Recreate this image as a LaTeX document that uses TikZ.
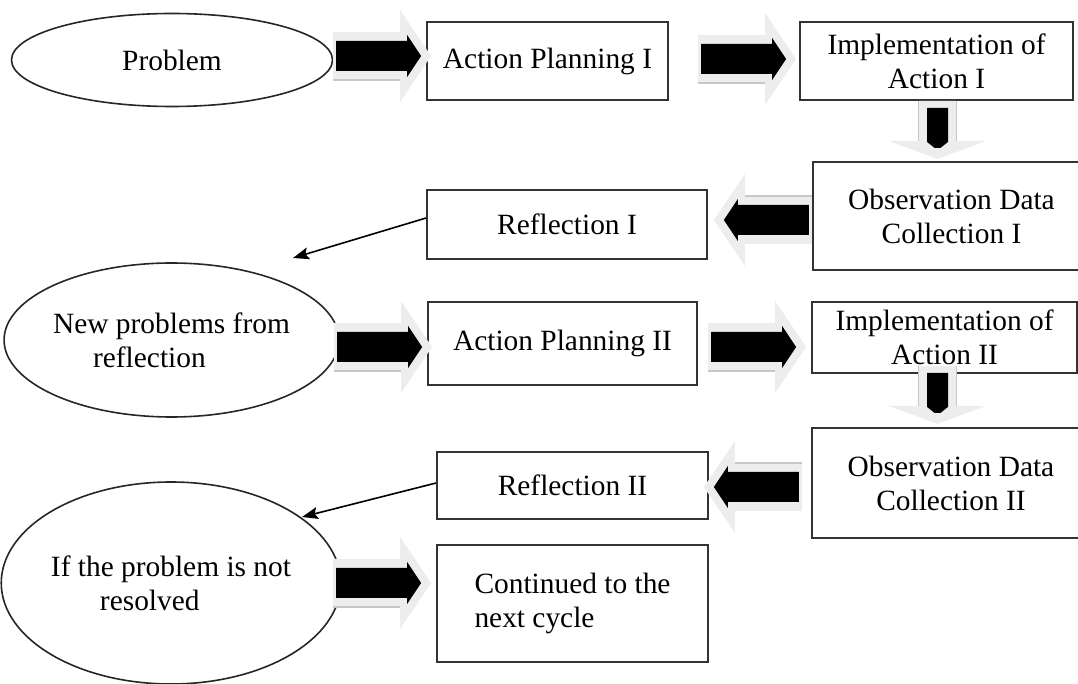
\documentclass[tikz,border=0pt]{standalone}
\usepackage{fontspec}
\setmainfont{Liberation Serif}
\usepackage{tikz}
\usetikzlibrary{arrows.meta,positioning,calc,shapes.geometric}
\tikzset{
  >=Stealth,
  every picture/.append style={line width=0.8pt},
  every node/.append style={font=\fontsize{14.7}{17}\selectfont},
}
\tikzset{
  box/.style={draw=black!80, line width=0.9pt, align=center, inner sep=0pt},
  oval/.style={draw=black!85, ellipse, line width=0.8pt, align=left, inner sep=0pt},
  thinarr/.style={-{Stealth[length=8pt, width=6pt, inset=1.5pt]}, line width=0.8pt},
  shadowfill/.style={fill=black!7},
  shadowline/.style={draw=black!22, line width=0.9pt},
  % horizontal block arrow, tip of the black part at the origin
  pics/flowarrow/.style={code={
    \fill[shadowfill] (-88,-24) -- (-21,-24) -- (-21,-46) -- (10,0) -- (-21,46) -- (-21,24) -- (-88,24) -- cycle;
    \draw[shadowline] (-88,24) -- (-21,24);
    \fill[black] (-85,-15) -- (-14,-15) -- (-14,-21) -- (0,0) -- (-14,21) -- (-14,15) -- (-85,15) -- cycle;
  }},
  % short downward block arrow
  pics/droparrow/.style={code={
    \fill[shadowfill] (-47,-19) -- (-7,-19) -- (-7,-49) -- (11,0) -- (-7,49) -- (-7,19) -- (-47,19) -- cycle;
    \draw[shadowline] (-47,-19) -- (-7,-19);
    \draw[shadowline] (-47,19) -- (-7,19);
    \fill[black] (-40,-10.5) -- (-6,-10.5) -- (0,-3) -- (0,3) -- (-6,10.5) -- (-40,10.5) -- cycle;
  }},
}

\begin{document}
\begin{tikzpicture}[x=0.5pt, y=-0.5pt]
\useasboundingbox (0,0) rectangle (1078,684);

% First cycle
\node[oval, minimum width=160.5pt, minimum height=46.5pt] (prob) at (172,60) {Problem};
\node[box, minimum width=120.5pt, minimum height=39pt] (ap1) at (547.5,61) {Action Planning I};
\node[box, minimum width=136.5pt, minimum height=39pt] (imp1) at (936.5,61) {Implementation of\\Action I};
\node[box, minimum width=138.5pt, minimum height=54pt] (obs1) at (951.5,216) {Observation Data\\Collection I};
\node[box, minimum width=140pt, minimum height=34.5pt] (ref1) at (567,224.5) {Reflection I};

% Second cycle
\node[oval, minimum width=153.5pt, minimum height=77pt] (newp) at (171.5,340) {New problems from\\\hspace*{20pt}reflection};
\node[box, minimum width=134.5pt, minimum height=41.5pt] (ap2) at (562.5,343.5) {Action Planning II};
\node[box, minimum width=132.5pt, minimum height=35.5pt] (imp2) at (944.5,337.5) {Implementation of\\Action II};
\node[box, minimum width=139pt, minimum height=55pt] (obs2) at (951,483) {Observation Data\\Collection II};
\node[box, minimum width=135.5pt, minimum height=33.5pt] (ref2) at (572.5,485.5) {Reflection II};

% End of the cycle
\node[oval, minimum width=159pt, minimum height=101pt] (ifnr) at (171,583) {If the problem is not\\\hspace*{24.5pt}resolved};
\node[box, align=left, minimum width=135.5pt, minimum height=58.5pt] (cont) at (572.5,603.5) {Continued to the\\next cycle};

% Block arrows between the steps
\pic at ($(ap1.west)+(-5,-5)$) {flowarrow};
\pic at ($(imp1.west)+(-13,-2)$) {flowarrow};
\pic[rotate=-90] at ($(imp1.south)+(1,47)$) {droparrow};
\pic[rotate=180] at ($(ref1.east)+(16,-4.5)$) {flowarrow};
\pic at ($(ap2.west)+(-5,3.5)$) {flowarrow};
\pic at ($(imp2.west)+(-15,9.5)$) {flowarrow};
\pic[rotate=-90] at ($(imp2.south)+(-7,39)$) {droparrow};
\pic[rotate=180] at ($(ref2.east)+(5,1.5)$) {flowarrow};
\pic at ($(cont.west)+(-15,-20.5)$) {flowarrow};

% Thin arrows back to the left
\coordinate (back1) at (293,258);
\coordinate (back2) at (302,517);
\draw[thinarr] ($(ref1.west)+(0,-6.5)$) -- (back1);
\draw[thinarr] ($(ref2.west)+(0,-2.5)$) -- (back2);

\end{tikzpicture}
\end{document}
